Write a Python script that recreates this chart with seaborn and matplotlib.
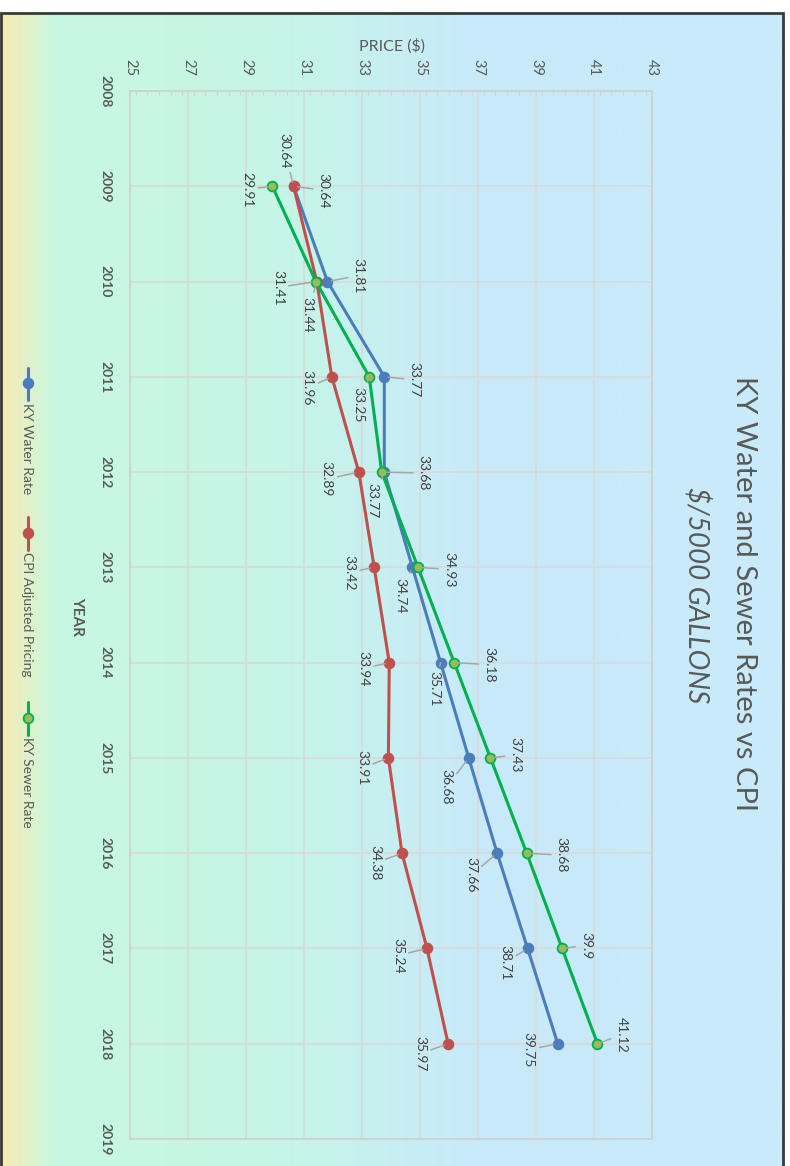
import numpy as np
import pandas as pd
import matplotlib
matplotlib.use("Agg")
import matplotlib.pyplot as plt
import seaborn as sns
from matplotlib.colors import LinearSegmentedColormap
from matplotlib.lines import Line2D
from matplotlib.patches import Rectangle
from matplotlib.ticker import MultipleLocator

# data
years = [2009, 2010, 2011, 2012, 2013, 2014, 2015, 2016, 2017, 2018]
water_rate = [30.64, 31.81, 33.77, 33.77, 34.74, 35.71, 36.68, 37.66, 38.71, 39.75]
cpi_price = [30.64, 31.44, 31.96, 32.89, 33.42, 33.94, 33.91, 34.38, 35.24, 35.97]
sewer_rate = [29.91, 31.41, 33.25, 33.68, 34.93, 36.18, 37.43, 38.68, 39.9, 41.12]
series_names = ["KY Water Rate", "CPI Adjusted Pricing", "KY Sewer Rate"]
price_ticks = list(range(25, 44, 2))
year_ticks = list(range(2008, 2020))

# label offsets in pixels (right, down) from each point
water_offsets = [(-9, -36), (31, -6), (30, 3), (-12, 29), (-12, 28),
                 (-6, 26), (-22, 29), (-26, 22), (-22, 14), (-29, 6)]
cpi_offsets = [(30, 4), (-9, 33), (-24, 11), (-32, 7), (-25, 5),
               (-26, 6), (-26, 10), (-27, 10), (-29, 7), (-28, 10)]
sewer_offsets = [(-25, 3), (-38, 6), (-11, 28), (42, 1), (31, 2),
                 (35, 2), (25, -3), (35, 2), (24, -3), (24, -9)]

df = pd.concat([
    pd.DataFrame({"year": years, "price": vals, "series": name})
    for name, vals in zip(series_names, [water_rate, cpi_price, sewer_rate])
])

sns.set_style("whitegrid")
plt.rcParams['font.family'] = ['Lato', 'DejaVu Sans']

W, H = 790, 1166
fig = plt.figure(figsize=(W / 100, H / 100), dpi=100)
fig.patch.set_facecolor("white")

def fx(x):
    return x / W

def fy(y):
    return 1 - y / H

# background gradient
bg_cmap = LinearSegmentedColormap.from_list("bg", [
    (0.0, "#f9ebb3"), (0.07, "#c6f8e2"), (0.35, "#c5f6e6"),
    (0.58, "#c8ebf8"), (1.0, "#c8eafa")])
bg = fig.add_axes([0, 0, 783 / W, 1 - 13 / H], zorder=0)
bg.imshow(np.linspace(0, 1, 512)[None, :], aspect="auto", cmap=bg_cmap,
          extent=[0, 1, 0, 1])
bg.axis("off")

ax = fig.add_axes([fx(130), fy(1139), (652 - 130) / W, (1139 - 91) / H], zorder=1)
ax.patch.set_alpha(0)

colors = {"KY Water Rate": "#4a7ebb", "CPI Adjusted Pricing": "#c0504d",
          "KY Sewer Rate": "#00b050"}
faces = {"KY Water Rate": "#4a7ebb", "CPI Adjusted Pricing": "#c0504d",
         "KY Sewer Rate": "#9bbb59"}

for name in series_names:
    sns.lineplot(data=df[df["series"] == name], x="price", y="year", orient="y",
                 color=colors[name], lw=2.2, marker="o", markersize=7,
                 markerfacecolor=faces[name], markeredgecolor=colors[name],
                 markeredgewidth=1.3, ax=ax, legend=False, zorder=3)

for vals, offs in [(water_rate, water_offsets), (cpi_price, cpi_offsets),
                   (sewer_rate, sewer_offsets)]:
    for yr, v, (dx, dy) in zip(years, vals, offs):
        ax.annotate(f"{v:g}", xy=(v, yr), xytext=(dx, -dy), textcoords="offset pixels",
                    rotation=-90, ha="center", va="center", fontsize=10, color="#404040",
                    arrowprops=dict(arrowstyle="-", color="#a6a6a6", lw=1.1,
                                    shrinkA=1, shrinkB=3), zorder=4)

ax.set_xlim(25, 43)
ax.set_ylim(2019, 2008)
ax.set_xticks(price_ticks)
ax.set_yticks(year_ticks)
ax.xaxis.tick_top()
ax.xaxis.set_minor_locator(MultipleLocator(0.4))
ax.set_xlabel("")
ax.set_ylabel("")
ax.grid(True, which="major", color="#d9d9d9", lw=1.2)
ax.tick_params(axis="x", which="major", length=0, pad=11, labelsize=10.5,
               labelcolor="#595959", labelrotation=-90)
ax.tick_params(axis="x", which="minor", top=True, bottom=False, direction="in",
               length=3, color="#d0d0d0")
ax.tick_params(axis="y", length=0, pad=13, labelsize=10, labelcolor="#595959",
               labelrotation=-90)
for lbl in ax.get_yticklabels():
    lbl.set_fontweight("bold")
    lbl.set_va("center")
for s in ax.spines.values():
    s.set_color("#d0d0d0")
    s.set_linewidth(1.2)

# titles and axis names
fig.text(fx(744), fy(593), "KY Water and Sewer Rates vs CPI", rotation=-90,
         ha="center", va="center", fontsize=21, color="#595959")
fig.text(fx(697), fy(595), "$/5000 GALLONS", rotation=-90, style="italic",
         ha="center", va="center", fontsize=20, color="#595959")
fig.text(fx(392), fy(46), "PRICE ($)", ha="center", va="center",
         fontsize=11.5, color="#595959")
fig.text(fx(77), fy(616), "YEAR", rotation=-90, ha="center", va="center",
         fontsize=11, fontweight="bold", color="#595959")

# legend
legend_rows = [(368, 400, 383, 403), (517, 550, 533, 552), (702, 735, 718, 737)]
for name, (y0, y1, ym, yt) in zip(series_names, legend_rows):
    fig.add_artist(Line2D([fx(28), fx(28)], [fy(y0), fy(y1)], transform=fig.transFigure,
                          color=colors[name], lw=2.2, zorder=5))
    fig.add_artist(Line2D([fx(28)], [fy(ym)], transform=fig.transFigure, marker="o",
                          markersize=7, markerfacecolor=faces[name],
                          markeredgecolor=colors[name], markeredgewidth=1.3, zorder=6))
    fig.text(fx(27), fy(yt), name, rotation=-90, ha="center", va="top",
             fontsize=10, color="#595959", zorder=6)

fig.add_artist(Rectangle((fx(1), -0.01), fx(782), 1.01 - 13 / H, transform=fig.transFigure,
                         fill=False, ec="#3a3a3a", lw=2, zorder=10))

fig.savefig("out.png", dpi=100)
